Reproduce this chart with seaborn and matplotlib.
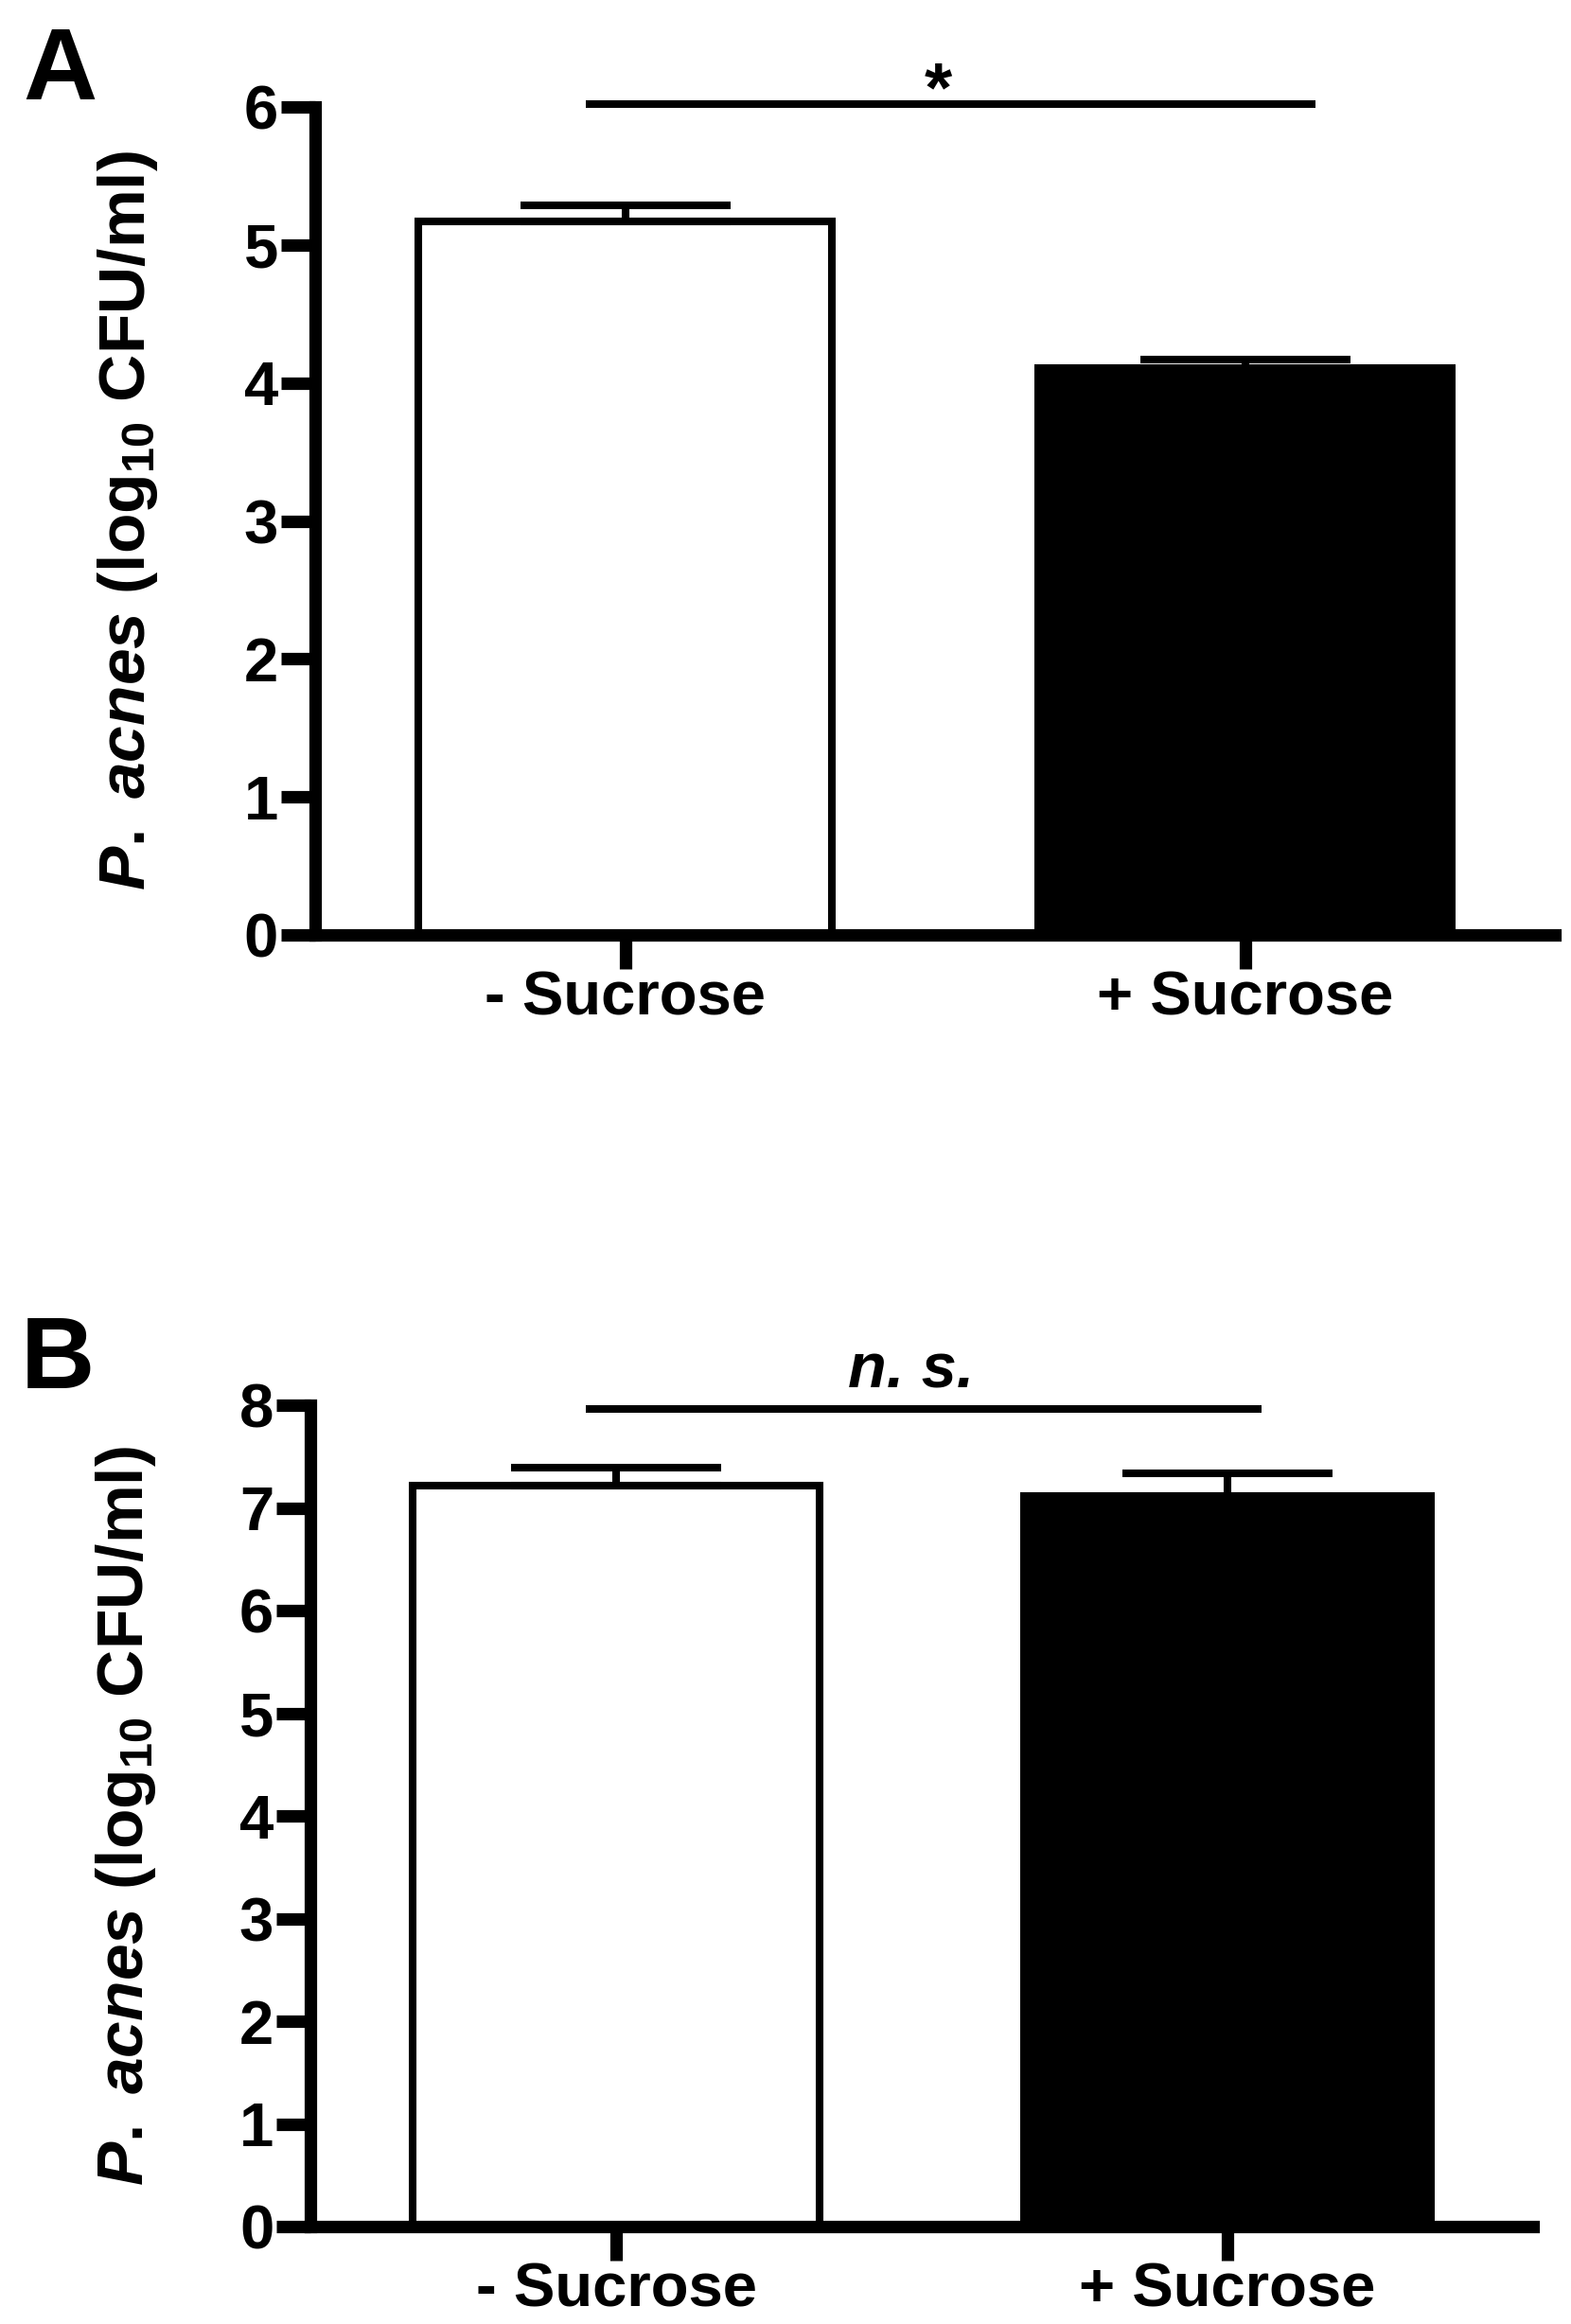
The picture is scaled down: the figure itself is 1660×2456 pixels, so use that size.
import matplotlib
matplotlib.use('Agg')
import matplotlib.pyplot as plt
import seaborn as sns
import pandas as pd

# ===== ДАННЫЕ =====
groups = ['- Sucrose', '+ Sucrose']
bar_colors = ['white', 'black']

# Панель A
means_a = [5.17, 4.11]
sem_a = [0.12, 0.06]
sig_a = '*'

# Панель B
means_b = [7.22, 7.12]
sem_b = [0.17, 0.22]
sig_b = 'n. s.'

ylabel = r'$\mathit{P.}$ $\mathit{acnes}$ (log$_{10}$ CFU/ml)'

sns.set_style('ticks')
plt.rcParams['font.family'] = ['Liberation Sans', 'DejaVu Sans']
plt.rcParams['font.weight'] = 'bold'
plt.rcParams['mathtext.fontset'] = 'custom'
plt.rcParams['mathtext.rm'] = 'Liberation Sans:bold'
plt.rcParams['mathtext.bf'] = 'Liberation Sans:bold'
plt.rcParams['mathtext.it'] = 'Liberation Sans:italic:bold'
plt.rcParams['mathtext.default'] = 'bf'
# всё чёрное, как в оригинале (seaborn по умолчанию даёт тёмно-серый)
for key in ['axes.edgecolor', 'axes.labelcolor', 'text.color',
            'xtick.color', 'ytick.color']:
    plt.rcParams[key] = 'black'

LW = 5.8      # линии столбцов, планок, значимости
SPINE = 9.5   # оси


def draw_panel(ax, means, sem, ymax, sig_text, sig_y, sig_x0, sig_x1,
               text_y, text_size, text_style):
    df = pd.DataFrame({'group': groups, 'value': means})
    sns.barplot(data=df, x='group', y='value', hue='group', order=groups,
                palette=dict(zip(groups, bar_colors)), legend=False,
                errorbar=None, width=0.667, edgecolor='black', linewidth=LW,
                ax=ax)
    ax.errorbar(range(len(groups)), means, yerr=[[0] * len(sem), sem],
                fmt='none', ecolor='black', elinewidth=LW, capsize=80,
                capthick=LW, zorder=5)

    ax.set_xlim(-0.5, 1.5)
    ax.set_ylim(0, ymax)
    ax.set_yticks(range(0, ymax + 1))
    ax.set_xlabel('')
    ax.set_ylabel(ylabel, fontsize=50, fontweight='bold')
    ax.yaxis.set_label_coords(-0.125, 0.5)

    sns.despine(ax=ax)
    for side in ['left', 'bottom']:
        ax.spines[side].set_linewidth(SPINE)
        ax.spines[side].set_color('black')
        ax.spines[side].set_capstyle('projecting')
    ax.tick_params(axis='both', length=26, width=SPINE, labelsize=47,
                   color='black', labelcolor='black')
    ax.tick_params(axis='x', pad=1)
    ax.tick_params(axis='y', pad=2)
    for lab in ax.get_xticklabels() + ax.get_yticklabels():
        lab.set_fontweight('bold')

    # линия значимости
    ax.plot([sig_x0, sig_x1], [sig_y, sig_y], color='black', lw=LW,
            solid_capstyle='butt', clip_on=False)
    ax.text((sig_x0 + sig_x1) / 2 - 0.02, text_y, sig_text, ha='center',
            va='baseline', fontsize=text_size, fontweight='bold',
            style=text_style, color='black', clip_on=False)


fig = plt.figure(figsize=(16.6, 24.56), dpi=100)
ax_a = fig.add_axes([0.2006, 0.5977, 0.7892, 0.3563])
ax_b = fig.add_axes([0.1976, 0.0419, 0.7783, 0.3534])

draw_panel(ax_a, means_a, sem_a, 6, sig_a, 6.02, -0.064, 1.113,
           5.97, 54, 'normal')
draw_panel(ax_b, means_b, sem_b, 8, sig_b, 7.96, -0.05, 1.056,
           8.17, 48, 'italic')

fig.text(0.0145, 1 - 105 / 2456, 'A', fontsize=78, fontweight='bold',
         ha='left', va='baseline', color='black')
fig.text(0.0133, 1 - 1467 / 2456, 'B', fontsize=78, fontweight='bold',
         ha='left', va='baseline', color='black')

fig.savefig('out.png', dpi=100)
plt.close()
